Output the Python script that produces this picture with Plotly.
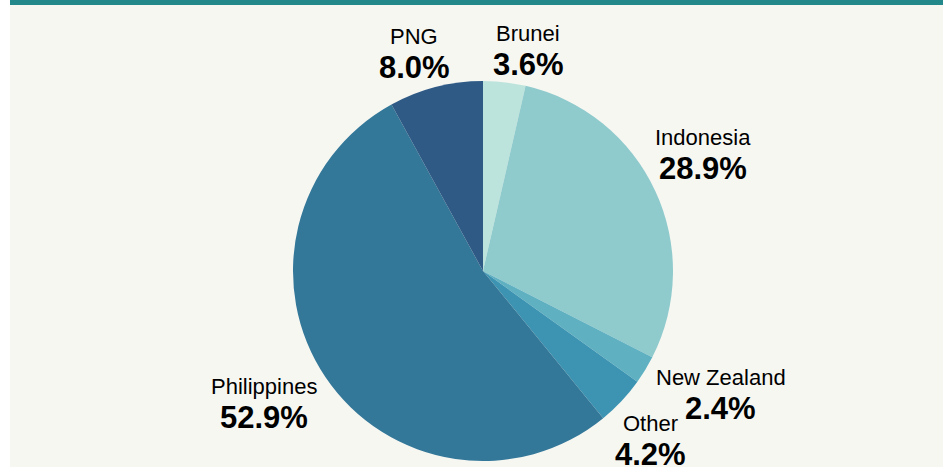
import math
import plotly.graph_objects as go

countries = ["Brunei", "Indonesia", "New Zealand", "Other", "Philippines", "PNG"]
shares = [3.6, 28.9, 2.4, 4.2, 52.9, 8.0]
colors = ["#bde4dc", "#8fcacd", "#5fb1c2", "#3c94b2", "#337799", "#2f5a86"]

W, H = 943, 467
CX, CY, R = 483, 271, 190          # pie centre / radius in pixels
GAP = 5                             # gap between pie rim and label box
NAME_SIZE, PCT_SIZE = 22, 31
FONT = "Liberation Sans, Arial, sans-serif"
# small angular nudges (degrees) to keep neighbouring labels apart
nudge = {"Brunei": 5, "PNG": -3, "New Zealand": -4, "Other": 2,
         "Indonesia": -3, "Philippines": 3}

fig = go.Figure(go.Pie(
    labels=countries,
    values=shares,
    sort=False,
    direction="clockwise",
    rotation=0,
    marker=dict(colors=colors, line=dict(width=0)),
    textinfo="none",
    domain=dict(x=[(CX - 300) / W, (CX + 300) / W],
                y=[(H - CY - R) / H, (H - CY + R) / H]),
    showlegend=False,
    hoverinfo="label+percent",
))


def text_w(s, size):
    # rough Arial advance widths
    narrow = set("il.I|")
    wide = set("%mwMWN")
    w = 0
    for ch in s:
        if ch in narrow:
            w += 0.26
        elif ch in wide:
            w += 0.85
        elif ch == " ":
            w += 0.28
        elif ch.isupper():
            w += 0.68
        else:
            w += 0.556
    return w * size


annotations = []
total = sum(shares)
cum = 0.0
for name, v in zip(countries, shares):
    mid = (cum + v / 2) / total * 360 + nudge.get(name, 0)
    cum += v
    a = math.radians(mid)
    ux, uy = math.sin(a), -math.cos(a)
    pct = f"{v:.1f}%"
    hw = max(text_w(name, NAME_SIZE), text_w(pct, PCT_SIZE)) / 2
    hh = 25
    t = R + GAP + hw * abs(ux) + hh * abs(uy)
    lx, ly = CX + t * ux, CY + t * uy
    annotations.append(dict(
        x=lx / W, y=1 - (ly - 16) / H, xref="paper", yref="paper",
        text=name, showarrow=False, xanchor="center", yanchor="middle",
        font=dict(family=FONT, size=NAME_SIZE, color="#000000")))
    annotations.append(dict(
        x=lx / W, y=1 - (ly + 15) / H, xref="paper", yref="paper",
        text=f"<b>{pct}</b>", showarrow=False, xanchor="center", yanchor="middle",
        font=dict(family=FONT, size=PCT_SIZE, color="#000000")))

fig.update_layout(
    width=W, height=H,
    margin=dict(l=0, r=0, t=0, b=0, pad=0, autoexpand=False),
    paper_bgcolor="#f7f7f2",
    plot_bgcolor="#f7f7f2",
    annotations=annotations,
    shapes=[
        dict(type="rect", xref="paper", yref="paper", x0=0, x1=10 / W, y0=0, y1=1,
             fillcolor="#ffffff", line=dict(width=0), layer="above"),
        dict(type="rect", xref="paper", yref="paper", x0=10 / W, x1=1, y0=1 - 5 / H, y1=1,
             fillcolor="#22888a", line=dict(width=0), layer="above"),
    ],
)

fig.write_html(
    "out.html",
    config={"displayModeBar": False},
    post_script="document.body.style.margin='0';document.body.style.padding='0';",
)
